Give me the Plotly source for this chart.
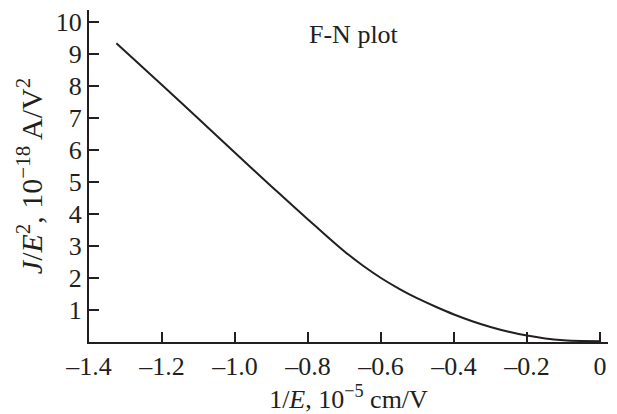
import plotly.graph_objects as go

# Data (1/E in 1e-5 cm/V, J/E^2 in 1e-18 A/V^2)
inv_e = [-1.325, -1.2, -1.1, -1.0, -0.9, -0.85, -0.8, -0.75, -0.7, -0.65, -0.6, -0.55,
         -0.5, -0.45, -0.4, -0.35, -0.3, -0.25, -0.2, -0.15, -0.1, -0.05, 0.0]
j_over_e2 = [9.33, 8.03, 6.97, 5.91, 4.86, 4.34, 3.83, 3.32, 2.83, 2.39, 2.00, 1.66,
             1.36, 1.10, 0.86, 0.65, 0.47, 0.32, 0.20, 0.11, 0.055, 0.03, 0.02]

x_tick_vals = [-1.4, -1.2, -1.0, -0.8, -0.6, -0.4, -0.2, 0.0]
x_tick_text = ["\u20131.4", "\u20131.2", "\u20131.0", "\u20130.8", "\u20130.6", "\u20130.4", "\u20130.2", "0"]
y_tick_vals = [1, 2, 3, 4, 5, 6, 7, 8, 9, 10]
y_tick_text = [str(v) for v in y_tick_vals]

ink = "#231f20"
font_family = "Liberation Serif, Times New Roman, serif"

fig = go.Figure()
fig.add_trace(go.Scatter(
    x=inv_e, y=j_over_e2, mode="lines",
    line=dict(color=ink, width=2, shape="spline", smoothing=0.5),
    showlegend=False, hoverinfo="skip",
))

fig.update_layout(
    width=617, height=414,
    margin=dict(l=89, r=9, t=8, b=72),
    paper_bgcolor="white", plot_bgcolor="white",
    font=dict(family=font_family, size=26, color=ink),
    xaxis=dict(
        range=[-1.4, 0.022], tickmode="array", tickvals=x_tick_vals, ticktext=x_tick_text,
        ticks="inside", ticklen=10, tickwidth=1.5, tickcolor=ink,
        showline=True, linecolor=ink, linewidth=2, showgrid=False, zeroline=False,
        tickfont=dict(family=font_family, size=26, color=ink),
        title=dict(text="1/<i>E</i>, 10<sup>\u22125</sup> cm/V",
                   font=dict(family=font_family, size=26, color=ink), standoff=2),
    ),
    yaxis=dict(
        range=[0, 10.37], tickmode="array", tickvals=y_tick_vals, ticktext=y_tick_text,
        ticks="inside", ticklen=10, tickwidth=1.5, tickcolor=ink,
        showline=True, linecolor=ink, linewidth=2, showgrid=False, zeroline=False,
        tickfont=dict(family=font_family, size=26, color=ink),
        title=dict(text="<i>J</i>/<i>E</i><sup>2</sup>, 10<sup>\u221218</sup> A/V<sup>2</sup>",
                   font=dict(family=font_family, size=30, color=ink), standoff=4),
    ),
    annotations=[dict(
        text="F-N plot", x=-0.675, y=9.6, xref="x", yref="y",
        xanchor="center", yanchor="middle", showarrow=False,
        font=dict(family=font_family, size=26, color=ink),
    )],
)

fig.write_html("out.html")
